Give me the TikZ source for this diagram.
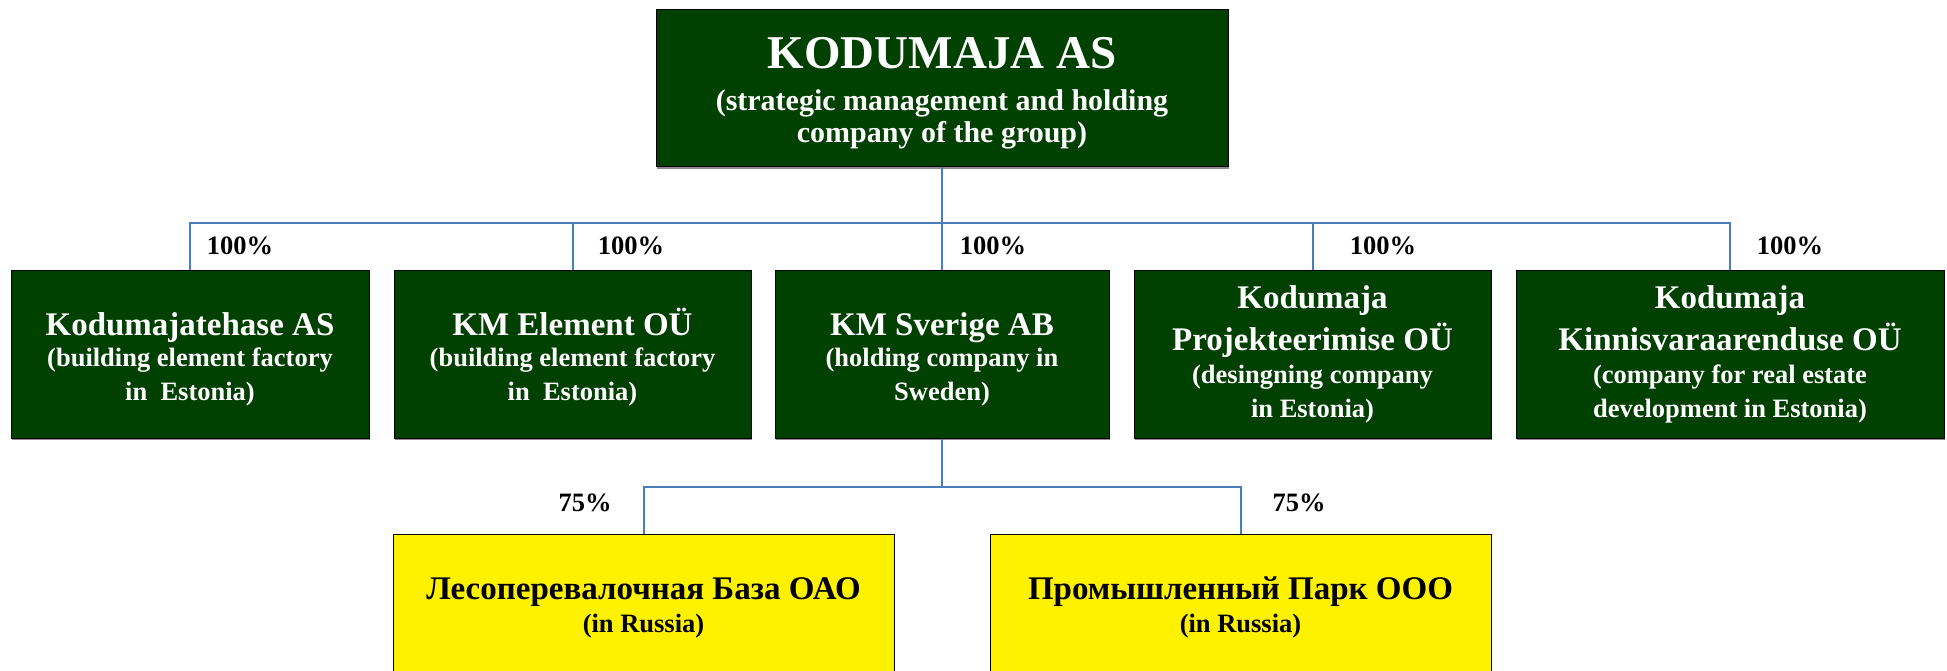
\documentclass[tikz,border=0pt]{standalone}
\usepackage{fontspec}
\setmainfont{Liberation Serif}
\definecolor{dgreen}{RGB}{0,64,0}
\definecolor{lblue}{RGB}{74,126,187}
\definecolor{shadowgray}{RGB}{140,140,140}
\newcommand{\ttl}{\fontsize{33}{34}\selectfont}
\newcommand{\lift}[1]{\rule{0pt}{#1}}
\begin{document}
\begin{tikzpicture}[x=1pt,y=-1pt,
  boxbase/.style={rectangle, draw=black, line width=1pt, inner sep=0pt, align=center,
    preaction={fill=shadowgray, transform canvas={xshift=1.2pt, yshift=-1.8pt}}},
  gbox/.style={boxbase, fill=dgreen, text=white, font=\bfseries\fontsize{26.5}{34}\selectfont},
  ybox/.style={boxbase, fill=yellow, text=black, font=\bfseries\fontsize{26.5}{33}\selectfont},
  topbox/.style={boxbase, fill=dgreen, text=white, font=\bfseries\fontsize{30}{32}\selectfont},
  conn/.style={draw=lblue, line width=2pt},
  pct/.style={font=\bfseries\fontsize{26.5}{30}\selectfont, text=black, inner sep=0pt}]
\useasboundingbox (0,0) rectangle (1947,671);
\fill[white] (0,0) rectangle (1947,671);

% top box
\node[topbox, minimum width=572pt, minimum height=157pt] (top) at (942,88.5)
  {\lift{41pt}\fontsize{47}{48}\selectfont KODUMAJA AS\\[10pt]
   (strategic management and holding\\
   company of the group)};

% second row
\node[gbox, minimum width=358pt, minimum height=167pt] (b1) at (190,354.5)
  {\lift{33pt}\ttl Kodumajatehase AS\\[-3pt]
   (building element factory\\
   in\ \ Estonia)};
\node[gbox, minimum width=357pt, minimum height=167pt] (b2) at (572.5,354.5)
  {\lift{33pt}\ttl KM Element OÜ\\[-3pt]
   (building element factory\\
   in\ \ Estonia)};
\node[gbox, minimum width=334pt, minimum height=167pt] (b3) at (942,354.5)
  {\lift{33pt}\ttl KM Sverige AB\\[-3pt]
   (holding company in\\
   Sweden)};
\node[gbox, minimum width=357pt, minimum height=167pt] (b4) at (1312.5,354.5)
  {\ttl Kodumaja\\[6pt]
   \ttl Projekteerimise OÜ\\[-1pt]
   (desingning company\\
   in Estonia)};
\node[gbox, minimum width=428pt, minimum height=167pt] (b5) at (1730,354.5)
  {\ttl Kodumaja\\[6pt]
   \ttl Kinnisvaraarenduse OÜ\\[-1pt]
   (company for real estate\\
   development in Estonia)};

% third row
\node[ybox, minimum width=501pt, minimum height=147pt] (y1) at (643.5,607.5)
  {\ttl Лесоперевалочная База ОАО\\
   (in Russia)};
\node[ybox, minimum width=501pt, minimum height=147pt] (y2) at (1240.5,607.5)
  {\ttl Промышленный Парк ООО\\
   (in Russia)};

% connectors
\coordinate (bus) at (942,223.5);
\coordinate (bus2) at (942,487);
\draw[conn] (top.south) -- (bus);
\draw[conn] (b1.north) -- (b1.north |- bus) -- (b5.north |- bus) -- (b5.north);
\draw[conn] (b2.north) -- (b2.north |- bus);
\draw[conn] (b3.north) -- (b3.north |- bus);
\draw[conn] (b4.north) -- (b4.north |- bus);
\draw[conn] (b3.south) -- (bus2);
\draw[conn] (y1.north) -- (y1.north |- bus2) -- (y2.north |- bus2) -- (y2.north);

% percentages
\node[pct] (p1) at (240,246) {100\%};
\node[pct] (p2) at (631,246) {100\%};
\node[pct] (p3) at (993,246) {100\%};
\node[pct] (p4) at (1383,246) {100\%};
\node[pct] (p5) at (1790,246) {100\%};
\node[pct] (p6) at (585,503) {75\%};
\node[pct] (p7) at (1299,503) {75\%};
\end{tikzpicture}
\end{document}
